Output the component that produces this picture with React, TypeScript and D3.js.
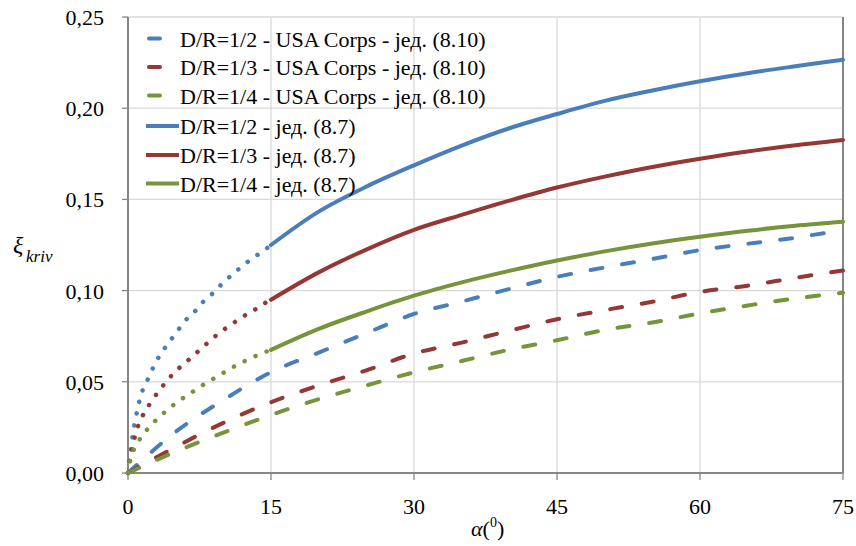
import React from "react";
import * as d3 from "d3";

// ---- data ----
const ANGLE_DOTTED = [0, 0.2, 0.5, 1, 1.5, 2, 3, 4, 5, 6, 7, 8, 9, 10, 11, 12, 13, 14, 15];
const ANGLE_SOLID = [15, 20, 25, 30, 35, 40, 45, 50, 55, 60, 65, 70, 75];
const ANGLE_DASHED = [0, 5, 10, 15, 20, 25, 30, 35, 40, 45, 50, 55, 60, 65, 70, 75];

// eq. (8.7), small-angle part (dotted)
const EQ87_DR2_DOT = [0, 0.008, 0.021, 0.035, 0.045, 0.0505, 0.0615, 0.0695, 0.0765, 0.0835, 0.0885, 0.0945, 0.099, 0.1045, 0.109, 0.1135, 0.1175, 0.121, 0.125];
const EQ87_DR3_DOT = [0, 0.007, 0.015, 0.025, 0.031, 0.0355, 0.0433, 0.05, 0.0558, 0.0604, 0.065, 0.0697, 0.0743, 0.0784, 0.082, 0.0856, 0.0885, 0.092, 0.095];
const EQ87_DR4_DOT = [0, 0.006, 0.0115, 0.0165, 0.0205, 0.0238, 0.0293, 0.034, 0.0382, 0.0419, 0.0453, 0.0487, 0.0518, 0.0549, 0.058, 0.0607, 0.0632, 0.0655, 0.0675];

// eq. (8.7), solid part
const EQ87_DR2 = [0.125, 0.1433, 0.157, 0.1687, 0.1795, 0.189, 0.1968, 0.204, 0.2097, 0.2148, 0.2192, 0.223, 0.2266];
const EQ87_DR3 = [0.095, 0.11, 0.1225, 0.1333, 0.1415, 0.1493, 0.1565, 0.1625, 0.1678, 0.1723, 0.1763, 0.1797, 0.1826];
const EQ87_DR4 = [0.0675, 0.079, 0.0885, 0.0972, 0.1045, 0.1108, 0.1165, 0.1215, 0.1258, 0.1295, 0.1328, 0.1356, 0.1378];

// USA Corps eq. (8.10), dashed
const EQ810_DR2 = [0, 0.0226, 0.04, 0.0553, 0.066, 0.0767, 0.0872, 0.094, 0.1009, 0.1075, 0.1127, 0.1173, 0.1222, 0.1257, 0.129, 0.1333];
const EQ810_DR3 = [0, 0.0143, 0.0275, 0.0388, 0.048, 0.0563, 0.0655, 0.0715, 0.078, 0.0843, 0.0893, 0.0939, 0.0993, 0.1027, 0.107, 0.111];
const EQ810_DR4 = [0, 0.0117, 0.0221, 0.0318, 0.0405, 0.048, 0.0552, 0.0614, 0.0676, 0.0728, 0.0784, 0.0825, 0.0875, 0.0918, 0.0957, 0.0988];

const X_TICKS = [0, 15, 30, 45, 60, 75];
const Y_TICKS = [0, 0.05, 0.1, 0.15, 0.2, 0.25];

const LEGEND_LABELS = [
  "D/R=1/2 - USA Corps - јед. (8.10)",
  "D/R=1/3 - USA Corps - јед. (8.10)",
  "D/R=1/4 - USA Corps - јед. (8.10)",
  "D/R=1/2 - јед. (8.7)",
  "D/R=1/3 - јед. (8.7)",
  "D/R=1/4 - јед. (8.7)",
];

const BLUE = "#4a7ebb";
const RED = "#953735";
const GREEN = "#77933c";
const COLORS = [BLUE, RED, GREEN];

const TXT = { fontFamily: "'Liberation Serif'" };

export default function App() {
  const W = 856;
  const H = 546;
  const x = d3.scaleLinear().domain([0, 75]).range([128, 843]);
  const y = d3.scaleLinear().domain([0, 0.25]).range([473, 17]);

  const mk = (xs: number[], ys: number[]) =>
    d3
      .line<number>()
      .x((_, i) => x(xs[i]))
      .y((d) => y(d))
      .curve(d3.curveCatmullRom.alpha(0.5))(ys) as string;

  const dashed = [EQ810_DR2, EQ810_DR3, EQ810_DR4];
  const dotted = [EQ87_DR2_DOT, EQ87_DR3_DOT, EQ87_DR4_DOT];
  const solid = [EQ87_DR2, EQ87_DR3, EQ87_DR4];

  const legendY = [38.5, 67, 95.5, 126, 155, 183.5];

  return (
    <div style={{ position: "absolute", left: 0, top: 0, width: W, height: H }}>
      <svg width={W} height={H}>
        <rect x={0} y={0} width={W} height={H} fill="#fff" />
        {/* grid */}
        {Y_TICKS.filter((t) => t > 0).map((t) => (
          <line key={"gy" + t} x1={x(0)} x2={x(75)} y1={y(t)} y2={y(t)} stroke="#d9d9d9" strokeWidth={1.3} />
        ))}
        {X_TICKS.filter((t) => t > 0 && t < 75).map((t) => (
          <line key={"gx" + t} x1={x(t)} x2={x(t)} y1={y(0)} y2={y(0.25)} stroke="#d9d9d9" strokeWidth={1.3} />
        ))}
        {/* axes */}
        <line x1={x(0)} x2={x(0)} y1={y(0) + 1} y2={y(0.25)} stroke="#868686" strokeWidth={2} />
        <line x1={x(0)} x2={x(75)} y1={y(0)} y2={y(0)} stroke="#868686" strokeWidth={2} />
        <line x1={x(75)} x2={x(75)} y1={y(0)} y2={y(0.25)} stroke="#868686" strokeWidth={2} />
        {Y_TICKS.map((t) => (
          <line key={"ty" + t} x1={x(0) - 6} x2={x(0)} y1={y(t)} y2={y(t)} stroke="#868686" strokeWidth={1.3} />
        ))}
        {X_TICKS.map((t) => (
          <line key={"tx" + t} x1={x(t)} x2={x(t)} y1={y(0)} y2={y(0) + 7} stroke="#868686" strokeWidth={1.3} />
        ))}
        {/* tick labels */}
        {Y_TICKS.map((t) => (
          <text key={"ly" + t} x={104} y={y(t) + 8} textAnchor="end" fontSize={22} style={TXT}>
            {t.toFixed(2).replace(".", ",")}
          </text>
        ))}
        {X_TICKS.map((t) => (
          <text key={"lx" + t} x={x(t)} y={514} textAnchor="middle" fontSize={22} style={TXT}>
            {String(t)}
          </text>
        ))}
        {/* axis titles */}
        <text x={13} y={253} fontSize={24} style={{ ...TXT, fontStyle: "italic" }}>ξ</text>
        <text x={26} y={262} fontSize={17} style={{ ...TXT, fontStyle: "italic" }}>kriv</text>
        <text x={471} y={536} fontSize={22} style={TXT}>
          <tspan style={{ fontStyle: "italic" }}>α</tspan>
          <tspan>(</tspan>
          <tspan fontSize={14} dy={-9}>0</tspan>
          <tspan dy={9}>)</tspan>
        </text>

        {/* series */}
        {dashed.map((s, i) => (
          <path key={"d" + i} d={mk(ANGLE_DASHED, s)} fill="none" stroke={COLORS[i]} strokeWidth={4}
            strokeDasharray="12 20" strokeLinecap="round" />
        ))}
        {dotted.map((s, i) => (
          <path key={"o" + i} d={mk(ANGLE_DOTTED, s)} fill="none" stroke={COLORS[i]} strokeWidth={4.5}
            strokeDasharray="0.1 11.9" strokeLinecap="round" />
        ))}
        {solid.map((s, i) => (
          <path key={"s" + i} d={mk(ANGLE_SOLID, s)} fill="none" stroke={COLORS[i]} strokeWidth={4}
            strokeLinecap="round" />
        ))}

        {/* legend */}
        {LEGEND_LABELS.map((lab, i) => {
          const ly = legendY[i];
          const c = COLORS[i % 3];
          return (
            <g key={"lg" + i}>
              {i < 3 ? (
                <line x1={149} x2={160} y1={ly} y2={ly} stroke={c} strokeWidth={4} strokeLinecap="round" />
              ) : (
                <line x1={146} x2={179} y1={ly} y2={ly} stroke={c} strokeWidth={4} />
              )}
              <text x={180} y={ly + 8} fontSize={22} style={TXT}>{lab}</text>
            </g>
          );
        })}
      </svg>
    </div>
  );
}
